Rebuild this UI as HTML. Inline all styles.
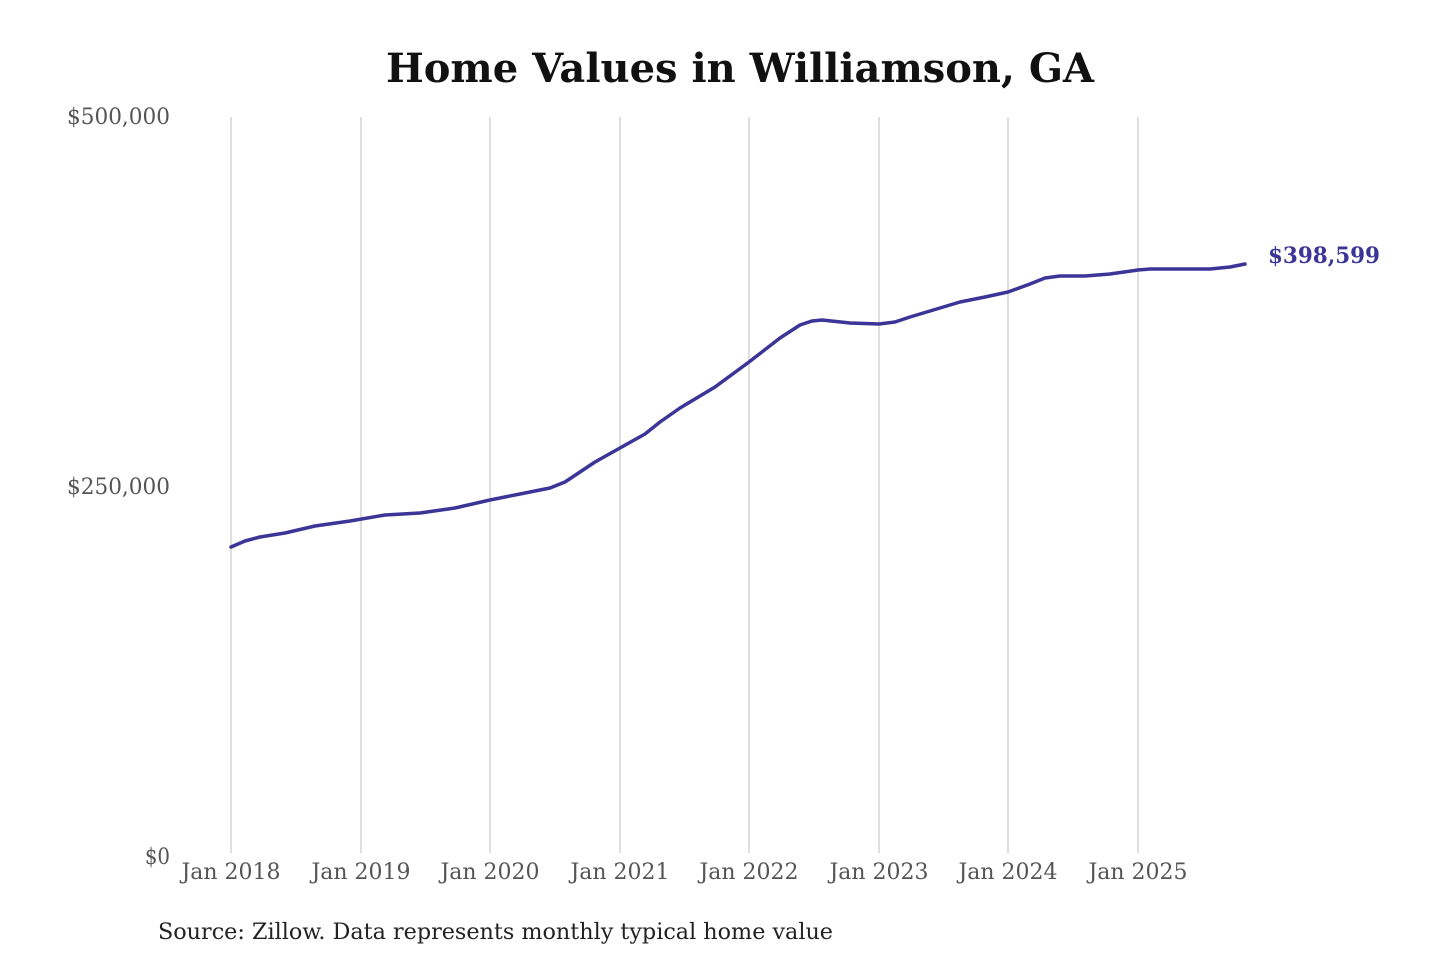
<!DOCTYPE html>
<html><head><meta charset="utf-8"><style>
html,body{margin:0;padding:0;background:#fff;width:1440px;height:960px;overflow:hidden}
svg{display:block}
text{font-family:"DejaVu Serif Condensed","DejaVu Serif","Liberation Serif",serif}
</style></head><body>
<svg width="1440" height="960" viewBox="0 0 1440 960">
<text x="740" y="82" text-anchor="middle" font-size="40" font-weight="bold" fill="#111" textLength="708" lengthAdjust="spacingAndGlyphs" style="font-family:'DejaVu Serif','Liberation Serif',serif">Home Values in Williamson, GA</text>
<g stroke="#c8c8c8" stroke-width="1.2">
<line x1="231" y1="117" x2="231" y2="853"/>
<line x1="361" y1="117" x2="361" y2="853"/>
<line x1="490" y1="117" x2="490" y2="853"/>
<line x1="620" y1="117" x2="620" y2="853"/>
<line x1="749" y1="117" x2="749" y2="853"/>
<line x1="879" y1="117" x2="879" y2="853"/>
<line x1="1008" y1="117" x2="1008" y2="853"/>
<line x1="1138" y1="117" x2="1138" y2="853"/>
</g>
<g font-size="22" fill="#555" text-anchor="end">
<text x="170" y="124" textLength="103" lengthAdjust="spacingAndGlyphs">$500,000</text>
<text x="170" y="494" textLength="103" lengthAdjust="spacingAndGlyphs">$250,000</text>
<text x="170" y="864">$0</text>
</g>
<g font-size="22" fill="#555" text-anchor="middle">
<text x="231" y="879" textLength="99" lengthAdjust="spacingAndGlyphs">Jan 2018</text>
<text x="361" y="879" textLength="99" lengthAdjust="spacingAndGlyphs">Jan 2019</text>
<text x="490" y="879" textLength="99" lengthAdjust="spacingAndGlyphs">Jan 2020</text>
<text x="620" y="879" textLength="99" lengthAdjust="spacingAndGlyphs">Jan 2021</text>
<text x="749" y="879" textLength="99" lengthAdjust="spacingAndGlyphs">Jan 2022</text>
<text x="879" y="879" textLength="99" lengthAdjust="spacingAndGlyphs">Jan 2023</text>
<text x="1008" y="879" textLength="99" lengthAdjust="spacingAndGlyphs">Jan 2024</text>
<text x="1138" y="879" textLength="99" lengthAdjust="spacingAndGlyphs">Jan 2025</text>
</g>
<polyline fill="none" stroke="#3a3596" stroke-width="3.5" stroke-linejoin="round" stroke-linecap="round" points="231,547 245,541 260,537 285,533 315,526 350,521 385,515 420,513 455,508 490,500 520,494 550,488 565,482 580,472 595,462 620,448 645,434 660,422 680,408 715,387 749,362 780,338 800,325 812,321 822,320 850,323 879,324 895,322 910,317 930,311 960,302 985,297 1008,292 1030,284 1045,278 1060,276 1085,276 1110,274 1138,270 1150,269 1210,269 1230,267 1245,264"/>
<text x="1268" y="263" font-size="22" font-weight="bold" fill="#3a3596" textLength="112" lengthAdjust="spacingAndGlyphs">$398,599</text>
<text x="158" y="939" font-size="22" fill="#222" textLength="675" lengthAdjust="spacingAndGlyphs">Source: Zillow. Data represents monthly typical home value</text>
</svg>
</body></html>
